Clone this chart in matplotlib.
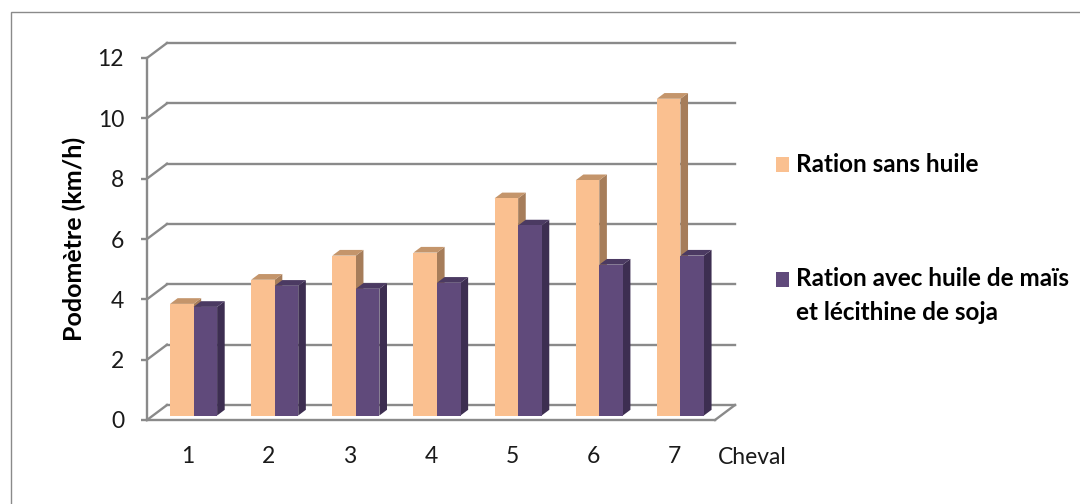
import matplotlib.pyplot as plt
import matplotlib.patches as patches
import numpy as np

plt.rcParams['font.family'] = ['Lato', 'DejaVu Sans']

# Données : vitesse au podomètre par cheval
chevaux = ['1', '2', '3', '4', '5', '6', '7']
sans_huile = [3.7, 4.5, 5.3, 5.4, 7.2, 7.8, 10.5]
avec_huile = [3.6, 4.3, 4.2, 4.4, 6.3, 5.0, 5.3]
series = ['Ration sans huile', 'Ration avec huile de maïs\net lécithine de soja']
y_ticks = [0, 2, 4, 6, 8, 10, 12]

# couleurs : face avant, dessus, côté
orange = ('#fac090', '#c4956b', '#a67d5a')
violet = ('#604a7b', '#4b3a62', '#3d2e51')
gris = '#8a8a8a'

W, H = 1080, 504
fig = plt.figure(figsize=(W / 100, H / 100), dpi=100)
fig.set_facecolor('white')

# cadre extérieur du graphique
cadre = patches.Rectangle((11 / W, -0.1), 1.2, 1.1 - 12 / H, transform=fig.transFigure,
                          fill=False, edgecolor=gris, linewidth=1.0)
fig.patches.append(cadre)

ax = fig.add_axes([147 / W, 84 / H, 568 / W, 362 / H])
ax.set_xlim(0, 7)
ax.set_ylim(0, 12)
ax.patch.set_visible(False)

# profondeur de la perspective (en unités de données)
DX = 20 / 81.14
DY = 15 / 30.17

# murs : quadrillage du fond et diagonales du mur gauche
for v in y_ticks:
    ax.plot([DX, 7 + DX], [v + DY, v + DY], color=gris, lw=1.7, clip_on=False, zorder=1)
    ax.plot([0, DX], [v, v + DY], color=gris, lw=1.7, clip_on=False, zorder=1)
ax.plot([7, 7 + DX], [0, DY], color=gris, lw=1.7, clip_on=False, zorder=1)

# barres en pseudo-3D
f0 = 0.3   # position de la face avant dans la profondeur
fd = 0.38  # épaisseur des barres
w = 0.29
x = np.arange(len(chevaux)) + 0.5
for i in range(len(chevaux)):
    for j, (vals, col) in enumerate([(sans_huile, orange), (avec_huile, violet)]):
        v = vals[i]
        xl = x[i] - w + j * w + f0 * DX
        b = f0 * DY
        ddx, ddy = fd * DX, fd * DY
        side = patches.Polygon([(xl + w, b), (xl + w, v + b), (xl + w + ddx, v + b + ddy),
                                (xl + w + ddx, b + ddy)], closed=True,
                               facecolor=col[2], edgecolor='none', zorder=2 + i + j * 0.5)
        top = patches.Polygon([(xl, v + b), (xl + w, v + b), (xl + w + ddx, v + b + ddy),
                               (xl + ddx, v + b + ddy)], closed=True,
                              facecolor=col[1], edgecolor='none', zorder=2 + i + j * 0.5)
        ax.add_patch(side)
        ax.add_patch(top)
        ax.bar(xl, v, bottom=b, width=w, align='edge', color=col[0],
               label=series[j] if i == 0 else None, zorder=2.1 + i + j * 0.5, clip_on=False)

# axes
for s in ['top', 'right']:
    ax.spines[s].set_visible(False)
ax.spines['left'].set_color(gris)
ax.spines['left'].set_linewidth(1.7)
ax.spines['bottom'].set_color(gris)
ax.spines['bottom'].set_linewidth(1.7)
ax.set_yticks(y_ticks)
ax.tick_params(axis='y', length=4.5, width=1.7, color=gris, labelsize=16.5, pad=12,
               labelcolor='#1a1a1a')
ax.set_xticks(x)
ax.set_xticklabels(chevaux)
ax.tick_params(axis='x', length=0, labelsize=16.5, pad=19, labelcolor='#1a1a1a')
ax.set_ylabel('Podomètre (km/h)', fontsize=18, fontweight='bold', labelpad=8)
ax.text(718 / W, 47 / H, 'Cheval', transform=fig.transFigure, fontsize=16.5,
        ha='left', va='center', color='#1a1a1a')

# légende
fig.patches.append(patches.Rectangle((776 / W, 1 - 172 / H), 13 / W, 15 / H,
                                     transform=fig.transFigure, facecolor=orange[0]))
fig.text(796 / W, 1 - 164 / H, series[0], fontsize=17.5, fontweight='bold', va='center')
fig.patches.append(patches.Rectangle((776 / W, 1 - 287 / H), 13 / W, 15 / H,
                                     transform=fig.transFigure, facecolor=violet[0]))
fig.text(796 / W, 1 - 279 / H, 'Ration avec huile de maïs', fontsize=17.5,
         fontweight='bold', va='center')
fig.text(796 / W, 1 - 313 / H, 'et lécithine de soja', fontsize=17.5,
         fontweight='bold', va='center')

fig.savefig('out.png', dpi=100)
